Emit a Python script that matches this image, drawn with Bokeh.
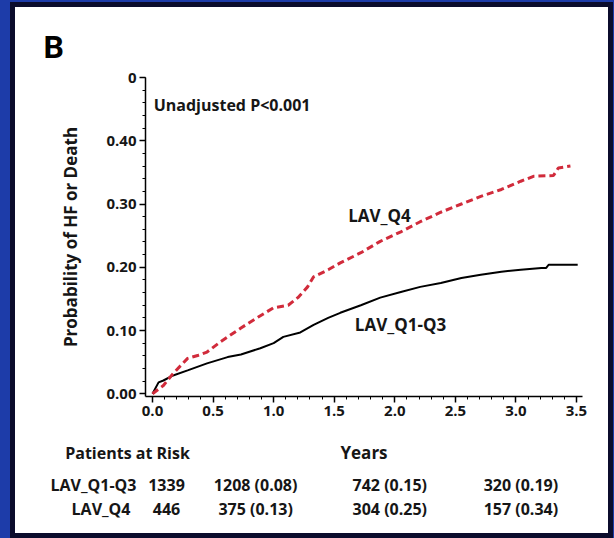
import numpy as np
from bokeh.plotting import figure
from bokeh.layouts import column
from bokeh.models import Range1d, FixedTicker, Label
from bokeh.core.properties import value
from bokeh.embed import file_html
from bokeh.resources import INLINE

# ---------------- data ----------------
q13_years = [0.0, 0.05, 0.09, 0.17, 0.29, 0.45, 0.62, 0.73, 0.89, 1.0, 1.08, 1.22, 1.33,
             1.45, 1.55, 1.72, 1.88, 2.05, 2.21, 2.38, 2.55, 2.71, 2.88, 3.04, 3.21,
             3.25, 3.27, 3.51]
q13_prob = [0.0, 0.018, 0.021, 0.029, 0.037, 0.048, 0.058, 0.062, 0.072, 0.080, 0.090,
            0.097, 0.109, 0.120, 0.128, 0.140, 0.152, 0.161, 0.169, 0.175, 0.183,
            0.188, 0.193, 0.196, 0.199, 0.199, 0.204, 0.204]

q4_years = [0.0, 0.09, 0.17, 0.29, 0.38, 0.45, 0.56, 0.73, 0.87, 1.0, 1.12, 1.20, 1.28,
            1.33, 1.45, 1.55, 1.72, 1.88, 2.05, 2.21, 2.38, 2.55, 2.71, 2.88, 3.04,
            3.15, 3.31, 3.35, 3.45]
q4_prob = [0.0, 0.013, 0.032, 0.056, 0.061, 0.066, 0.082, 0.104, 0.121, 0.136, 0.140,
           0.152, 0.169, 0.185, 0.196, 0.207, 0.223, 0.241, 0.256, 0.272, 0.287,
           0.300, 0.312, 0.323, 0.336, 0.344, 0.345, 0.357, 0.360]

series_names = ["LAV_Q1-Q3", "LAV_Q4"]
risk_years = [0, 1, 2, 3]
q13_risk = ["1339", "1208 (0.08)", "742 (0.15)", "320 (0.19)"]
q4_risk = ["446", "375 (0.13)", "304 (0.25)", "157 (0.34)"]

x_ticks = [0.0, 0.5, 1.0, 1.5, 2.0, 2.5, 3.0, 3.5]
x_tick_labels = ["0.0", "0.5", "1.0", "1.5", "2.0", "2.5", "3.0", "3.5"]
y_ticks = [0.0, 0.1, 0.2, 0.3, 0.4, 0.5]
y_tick_labels = ["0.00", "0.10", "0.20", "0.30", "0.40", "0"]

# ---------------- styling ----------------
FONT = "Open Sans"
TXT = "#161616"
RED = "#d12b3b"
PANEL_W = 593

p = figure(width=PANEL_W, height=419, output_backend="svg", toolbar_location=None,
           x_range=Range1d(-0.0578, 3.5496), y_range=Range1d(-0.0043, 0.5),
           min_border_left=130, min_border_right=26, min_border_top=70,
           min_border_bottom=30)
p.frame_align = False
p.outline_line_color = None
p.grid.visible = False
p.background_fill_color = "white"
p.border_fill_color = "white"

p.title.text = "B"
p.title.text_font = "Roboto"
p.title.text_font_style = "bold"
p.title.text_font_size = "32px"
p.title.text_color = "black"
p.title.align = "left"
p.title.offset = -102
p.title.standoff = 24

for ax in (p.xaxis[0], p.yaxis[0]):
    ax.axis_line_color = "black"
    ax.axis_line_width = 1.5
    ax.major_tick_line_color = "black"
    ax.major_tick_line_width = 1.5
    ax.major_tick_in = 0
    ax.major_tick_out = 6
    ax.minor_tick_line_color = "black"
    ax.minor_tick_line_width = 1
    ax.minor_tick_in = 0
    ax.minor_tick_out = 3
    ax.major_label_text_font = FONT
    ax.major_label_text_font_style = "bold"
    ax.major_label_text_font_size = "15px"
    ax.major_label_text_color = TXT

p.xaxis.ticker = FixedTicker(ticks=x_ticks,
                             minor_ticks=[round(0.1 * i, 1) for i in range(36)])
p.xaxis.major_label_overrides = {t: s for t, s in zip(x_ticks, x_tick_labels)}
p.xaxis.major_label_standoff = 3

p.yaxis.ticker = FixedTicker(ticks=y_ticks,
                             minor_ticks=[round(0.02 * i, 2) for i in range(26)])
p.yaxis.major_label_overrides = {t: s for t, s in zip(y_ticks, y_tick_labels)}
p.yaxis.major_label_standoff = 3
p.yaxis.axis_label = "Probability of HF or Death"
p.yaxis.axis_label_text_font = FONT
p.yaxis.axis_label_text_font_style = "bold"
p.yaxis.axis_label_text_font_size = "17px"
p.yaxis.axis_label_text_color = TXT
p.yaxis.axis_label_standoff = 21

# curves
p.line(q13_years, q13_prob, line_color="black", line_width=2)
p.line(q4_years, q4_prob, line_color=RED, line_width=3, line_dash="7 4")

def lab(text, x, y, align="left", size="16px"):
    p.add_layout(Label(x=x, y=y, text=text, text_font=FONT, text_font_style="bold",
                       text_font_size=size, text_color=TXT, text_align=align,
                       text_baseline="middle"))

lab("Unadjusted P<0.001", 0.01, 0.456)
lab(series_names[1], 1.874, 0.282, "center", "17px")
lab(series_names[0], 2.047, 0.110, "center", "17px")

# ---------------- risk table (below the axis) ----------------
t = figure(width=PANEL_W, height=107, output_backend="svg", toolbar_location=None,
           x_range=Range1d(-1.1309, 3.7643), y_range=Range1d(107, 0),
           x_axis_location=None, y_axis_location=None, min_border=0)
t.frame_align = False
t.outline_line_color = None
t.grid.visible = False
t.background_fill_color = "white"
t.border_fill_color = "white"

tk = dict(text_font=value(FONT), text_font_style="bold", text_font_size="16px",
          text_color=TXT, text_baseline="middle")
row1_y, row2_y, head_y = 58.5, 82, 26
t.text(x=[-0.206], y=[head_y], text=["Patients at Risk"], text_align="center", **tk)
t.text(x=[1.746], y=[head_y], text=["Years"], text_align="center",
       text_font=value(FONT), text_font_style="bold", text_font_size="17px",
       text_color=TXT, text_baseline="middle")
t.text(x=[0, 0], y=[row1_y, row2_y], text=series_names, text_align="right",
       x_offset=[-16, -22], **tk)
nudges = [14, -18, -5, 5]
t.text(x=risk_years, y=[row1_y] * 4, text=q13_risk, text_align="center",
       x_offset=nudges, **tk)
t.text(x=risk_years, y=[row2_y] * 4, text=q4_risk, text_align="center",
       x_offset=nudges, **tk)

layout = column(p, t, spacing=0)
layout.styles = {"background-color": "white", "outline": "5px solid #0b0c2c"}

html = file_html(layout, INLINE)
css = ("<style>html,body{margin:0 !important;background:#1d3ca9 !important;}"
       "body{padding:7px 0 0 15px !important;box-sizing:border-box;}</style>")
html = html.replace("</head>", css + "</head>", 1)
open("out.html", "w").write(html)
